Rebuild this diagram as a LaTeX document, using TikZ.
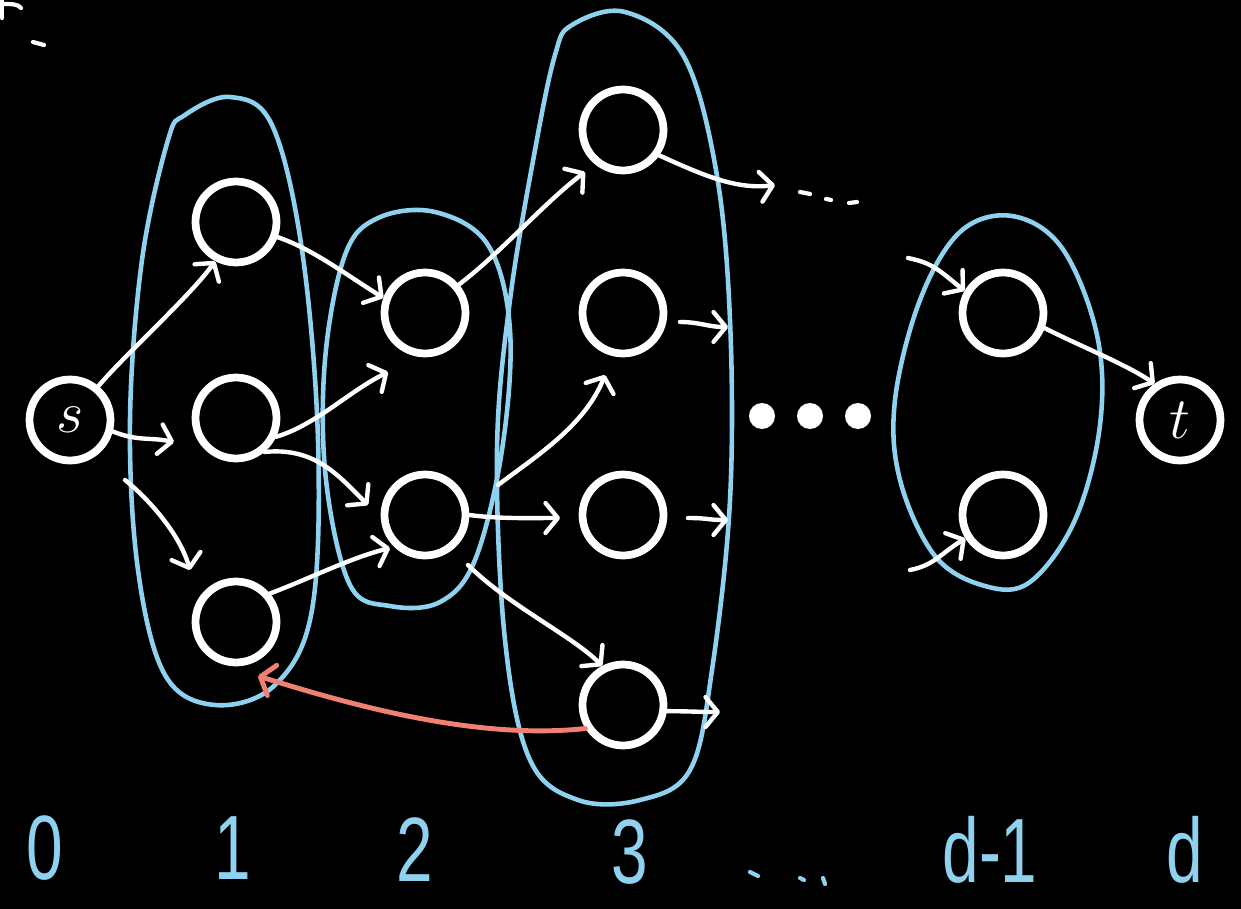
\documentclass[tikz,border=0pt]{standalone}
\usepackage{fontspec}
\newfontfamily\hand{Liberation Sans}
\usetikzlibrary{arrows.meta}
\definecolor{lblue}{RGB}{142,210,240}
\definecolor{salmon}{RGB}{240,128,112}
\tikzset{
  vert/.style={circle,draw=white,line width=4.4pt,minimum size=1.62cm,inner sep=0pt,text=white,font=\Huge},
  arr/.style={white,line width=2.5pt,line cap=round,-{Straight Barb[length=7pt,width=17pt,round]}},
  redarr/.style={salmon,line width=2.8pt,line cap=round,-{Straight Barb[length=7pt,width=18pt,round]}},
  group/.style={lblue,line width=2.6pt},
  dotv/.style={circle,fill=white,minimum size=0.52cm,inner sep=0pt},
  lab/.style={text=lblue,font=\hand\fontsize{52}{52}\selectfont,inner sep=0pt},
  stroke/.style={white,line width=2.4pt,line cap=round}
}
\begin{document}
\begin{tikzpicture}[x=0.02cm,y=-0.02cm]
\fill[black] (0,0) rectangle (1241,909);
\useasboundingbox (0,0) rectangle (1241,909);
% groups
\draw[group] plot[smooth cycle,tension=0.6] coordinates {(185,115) (230,97) (272,125) (302,250) (318,440) (312,610) (275,685) (215,705) (165,675) (138,570) (130,420) (142,260) (168,140)};
\draw[group] plot[smooth cycle,tension=0.6] coordinates {(378,218) (435,212) (488,245) (510,330) (502,450) (475,560) (440,602) (390,606) (350,585) (326,480) (325,360) (345,255)};
\draw[group] plot[smooth cycle,tension=0.6] coordinates {(572,25) (625,12) (683,55) (716,170) (730,320) (730,500) (712,670) (690,770) (640,800) (578,800) (530,760) (505,640) (497,450) (510,300) (535,150) (555,55)};
\draw[group] plot[smooth cycle,tension=0.6] coordinates {(960,232) (1012,216) (1062,248) (1097,335) (1100,425) (1075,520) (1030,582) (985,586) (935,556) (900,480) (895,400) (920,300)};
% vertices
\node[vert] (s) at (70,420) {\scalebox{1.35}{$s$}};
\node[vert] (L1a) at (236,222) {};
\node[vert] (L1b) at (236,418) {};
\node[vert] (L1c) at (236,622) {};
\node[vert] (L2a) at (425,313) {};
\node[vert] (L2b) at (425,515) {};
\node[vert] (L3a) at (623,130) {};
\node[vert] (L3b) at (623,313) {};
\node[vert] (L3c) at (623,515) {};
\node[vert] (L3d) at (623,705) {};
\node[vert] (L4a) at (1003,313) {};
\node[vert] (L4b) at (1003,515) {};
\node[vert] (t) at (1180,420) {\scalebox{1.35}{$t$}};
\node[dotv] (d1) at (762,416) {};
\node[dotv] (d2) at (810,416) {};
\node[dotv] (d3) at (858,416) {};
% free ends
\coordinate (c2) at (174,442);
\coordinate (c3s) at (125,480);
\coordinate (c3) at (190,570);
\coordinate (c5) at (388,372);
\coordinate (c6) at (368,505);
\coordinate (c7) at (390,548);
\coordinate (c8) at (585,172);
\coordinate (c9s) at (498,485);
\coordinate (c9) at (605,375);
\coordinate (c10) at (560,518);
\coordinate (c11s) at (468,565);
\coordinate (c12) at (775,185);
\coordinate (c13s) at (680,322);
\coordinate (c13) at (728,327);
\coordinate (c14s) at (688,518);
\coordinate (c14) at (728,520);
\coordinate (c15) at (720,712);
\coordinate (c16s) at (908,258);
\coordinate (c17s) at (910,570);
\coordinate (c19) at (258,676);
% arrows
\draw[arr] (s.50) .. controls +(25,-30) and +(-25,35) .. (L1a.242);
\draw[arr] (s.-15) .. controls +(25,10) and +(-25,-5) .. (c2);
\draw[arr] (c3s) .. controls +(25,20) and +(-10,-35) .. (c3);
\draw[arr] (L1a.-20) .. controls +(35,12) and +(-40,-25) .. (L2a.160);
\draw[arr] (L1b.-25) .. controls +(40,-12) and +(-40,20) .. (c5);
\draw[arr] (L1b.-50) .. controls +(50,-5) and +(-30,-30) .. (c6);
\draw[arr] (L1c.40) .. controls +(40,-15) and +(-40,10) .. (c7);
\draw[arr] (L2a.40) .. controls +(40,-30) and +(-40,30) .. (c8);
\draw[arr] (c9s) .. controls +(40,-30) and +(-20,50) .. (c9);
\draw[arr] (L2b.0) .. controls +(30,4) and +(-30,0) .. (c10);
\draw[arr] (c11s) .. controls +(40,40) and +(-30,-30) .. (L3d.118);
\draw[arr] (L3a.-35) .. controls +(40,18) and +(-40,5) .. (c12);
\draw[arr] (c13s) .. controls +(20,0) and +(-20,0) .. (c13);
\draw[arr] (c14s) .. controls +(20,0) and +(-20,0) .. (c14);
\draw[arr] (L3d.-8) .. controls +(20,0) and +(-20,0) .. (c15);
\draw[arr] (c16s) .. controls +(25,5) and +(-25,-20) .. (L4a.150);
\draw[arr] (c17s) .. controls +(25,-5) and +(-25,15) .. (L4b.212);
\draw[arr] (L4a.-20) .. controls +(40,20) and +(-30,-20) .. (t.125);
\draw[redarr] (L3d.212) .. controls +(-110,12) and +(90,28) .. (c19);
% small strokes
\draw[stroke] (800,192) -- (810,194);
\draw[stroke] (826,199) -- (831,200);
\draw[stroke] (849,203) -- (857,202);
\draw[stroke] (2,0) -- (2,18);
\draw[stroke] (2,4) .. controls (12,4) and (18,4) .. (21,8);
\draw[stroke] (33,42) -- (44,45);
% labels
\node[lab] (n0) at (45,848) {\scalebox{0.72}[1]{0}};
\node[lab] (n1) at (233,848) {\scalebox{0.72}[1]{1}};
\node[lab] (n2) at (415,850) {\scalebox{0.72}[1]{2}};
\node[lab] (n3) at (630,852) {\scalebox{0.72}[1]{3}};
\draw[lblue,line width=2.4pt,line cap=round] (750,872) -- (758,876) (800,878) -- (804,880) (823,878) -- (825,884);
\node[lab] (nd1) at (990,850) {\scalebox{0.72}[1]{d-1}};
\node[lab] (nd) at (1185,850) {\scalebox{0.72}[1]{d}};
\end{tikzpicture}
\end{document}
